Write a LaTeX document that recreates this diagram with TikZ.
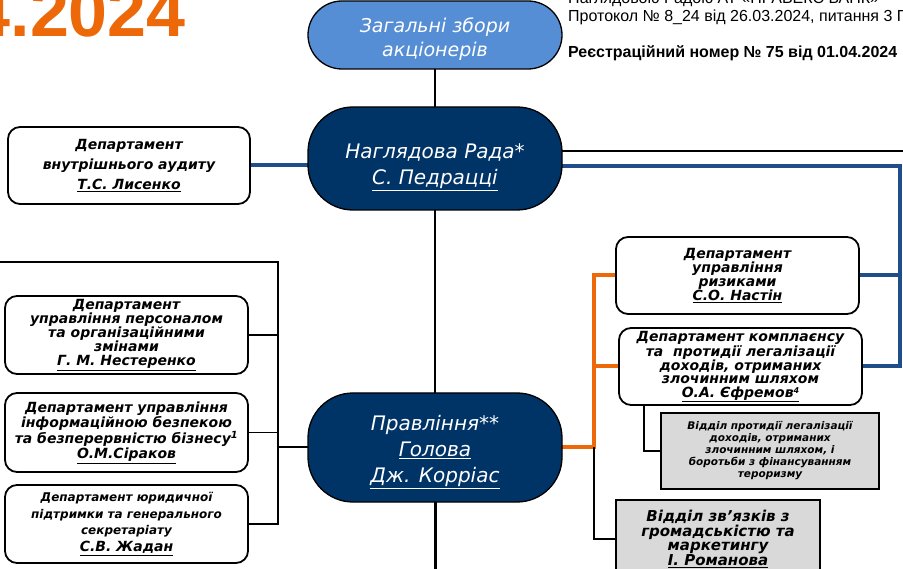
\documentclass[tikz,border=0pt]{standalone}
\usepackage{fontspec}
\setmainfont{DejaVu Sans}
\newfontfamily\arialf{Liberation Sans}
\usetikzlibrary{calc}
\pgfdeclarelayer{bg}
\pgfsetlayers{bg,main}
\definecolor{navy}{RGB}{0,51,102}
\definecolor{lightblue}{RGB}{85,142,213}
\definecolor{lineblue}{RGB}{31,78,139}
\definecolor{orangeline}{RGB}{236,104,8}
\definecolor{boxgrey}{RGB}{217,217,217}
\begin{document}
\begin{tikzpicture}[x=1pt,y=-1pt,
  bignode/.style={draw=black, line width=1.3pt, rounded corners=45pt, minimum width=254pt,
    inner sep=0pt},
  bigtext/.style={inner sep=0pt, text=white, align=center, font=\fontsize{20}{26}\selectfont\itshape},
  dept/.style={draw=black, line width=1.8pt, rounded corners=12pt, fill=white, inner sep=0pt,
    minimum width=243pt, align=center},
  greybox/.style={draw=black, line width=1.8pt, fill=boxgrey, inner sep=0pt, align=center},
  thinline/.style={draw=black, line width=1.5pt},
  blueline/.style={draw=lineblue, line width=4pt},
  orangeln/.style={draw=orangeline, line width=4pt}
]
\useasboundingbox (0,0) rectangle (903,569);
\clip (0,0) rectangle (903,569);

% header texts
\node[anchor=base east, text=orangeline, inner sep=0pt, font=\arialf\bfseries\fontsize{70}{70}\selectfont] (year) at (186,37) {01.04.2024};
\node[anchor=west, inner sep=0pt, font=\arialf\fontsize{16}{16}\selectfont] (hdr1) at (568,-0.5) {Наглядовою Радою АТ «ПРАВЕКС БАНК»};
\node[anchor=west, inner sep=0pt, font=\arialf\fontsize{16}{16}\selectfont] (hdr2) at (568,17) {Протокол № 8\_24 від 26.03.2024, питання 3 Порядку денного};
\node[anchor=west, inner sep=0pt, font=\arialf\bfseries\fontsize{16}{16}\selectfont] (hdr3) at (568,53) {Реєстраційний номер № 75 від 01.04.2024};

% main nodes
\node[bignode, fill=lightblue, rounded corners=34pt, minimum height=68pt] (gm) at (435,35) {};
\node[bigtext, font=\fontsize{19}{24}\selectfont\itshape] (gmT) at (435,39) {Загальні збори\\акціонерів};
\node[bignode, fill=navy, minimum height=103pt] (nr) at (435,158.5) {};
\node[bigtext] (nrT) at (435,167) {Наглядова Рада*\\\underline{С. Педрацці}};
\node[bignode, fill=navy, minimum height=109pt] (pr) at (435,447.5) {};
\node[bigtext] (prT) at (435,452) {Правління**\\\underline{Голова}\\\underline{Дж. Корріас}};

% left departments
\node[dept, minimum width=242pt, minimum height=77pt, font=\bfseries\itshape\fontsize{14}{20}\selectfont] (audit) at (129,165.5)
  {Департамент\\внутрішнього аудиту\\\underline{Т.С. Лисенко}};
\node[dept, minimum height=78pt, font=\bfseries\itshape\fontsize{14}{14}\selectfont] (hr) at (126.5,335)
  {Департамент\\управління персоналом\\та організаційними\\змінами\\\underline{Г. М. Нестеренко}};
\node[dept, minimum height=79pt, font=\bfseries\itshape\fontsize{14}{13.5}\selectfont] (infosec) at (126.5,432.5)
  {Департамент управління\\інформаційною безпекою\\та безперервністю бізнесу\textsuperscript{1}\\\underline{О.М.Сіраков}};
\node[dept, minimum height=78pt, font=\bfseries\itshape\fontsize{12}{16.5}\selectfont] (legal) at (126.5,524)
  {Департамент юридичної\\підтримки та генерального\\секретаріату\\{\fontsize{14}{16}\selectfont\underline{С.В. Жадан}}};

% right departments
\node[dept, minimum height=77pt, font=\bfseries\itshape\fontsize{14}{13.3}\selectfont] (risk) at (737.5,275.5)
  {Департамент\\управління\\ризиками\\\underline{С.О. Настін}};
\node[dept, minimum height=77pt, font=\bfseries\itshape\fontsize{14}{13.3}\selectfont] (compl) at (740.5,366.5)
  {Департамент комплаєнсу\\та\ \ протидії легалізації\\доходів, отриманих\\злочинним шляхом\\\underline{О.А. Єфремов{\fontsize{8}{8}\selectfont\raisebox{4pt}{4}}}};
\node[greybox, minimum width=218pt, minimum height=76pt, font=\bfseries\itshape\fontsize{10.5}{12}\selectfont] (aml) at (770,451)
  {Відділ протидії легалізації\\доходів, отриманих\\злочинним шляхом, і\\боротьби з фінансуванням\\тероризму};
\node[greybox, minimum width=204pt, minimum height=78pt, font=\bfseries\itshape\fontsize{15}{14.5}\selectfont] (pr2) at (718,539)
  {Відділ зв’язків з\\громадськістю та\\маркетингу\\\underline{І. Романова}};

% helper coordinates
\coordinate (lT) at (278,262);
\coordinate (lL) at (0,262);
\coordinate (kR) at (903,151);
\coordinate (bT) at (900,166);
\coordinate (oX) at (594,450);
\coordinate (amlX) at (644,0);
\coordinate (bot) at (434.5,569);

\begin{pgfonlayer}{bg}
  % vertical spine
  \draw[thinline] (gm.center) -- (nr.center) -- (pr.center);
  \draw[draw=black, line width=3pt] (pr.center) -- (pr.center |- bot);
  % supervisory board links
  \draw[blueline] (audit.east) -- (audit.east -| nr.center);
  \draw[thinline] (nr.center |- kR) -- (kR);
  \draw[blueline] (nr.center |- bT) -- (bT) -- (bT |- compl.east) -- (compl.east);
  \draw[blueline] (risk.east) -- (risk.east -| bT);
  % left tree
  \draw[thinline] (lL) -- (lT) -- (lT |- legal.east) -- (legal.east);
  \draw[thinline] (hr.east) -- (hr.east -| lT);
  \draw[thinline] (infosec.east) -- (infosec.east -| lT);
  \draw[draw=black, line width=2pt] (pr.center) -- (pr.center -| lT);
  % orange tree
  \draw[orangeln] (pr.center) -- (pr.center -| oX) -- (oX |- risk.west) -- (risk.west);
  \draw[orangeln] (compl.west) -- (compl.west -| oX);
  \draw[thinline] (pr.center -| oX) -- (oX |- pr2.west) -- (pr2.west);
  % AML
  \draw[thinline] (amlX |- compl.south) -- (amlX |- aml.west) -- (aml.west);
\end{pgfonlayer}
\end{tikzpicture}
\end{document}
